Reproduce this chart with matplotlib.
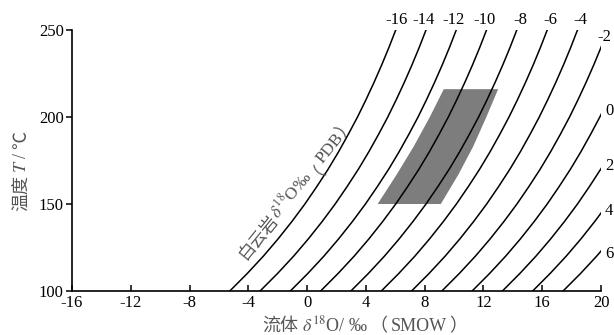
import math

import matplotlib
matplotlib.use("Agg")
import matplotlib.pyplot as plt
from matplotlib.transforms import IdentityTransform

SERIF = "Liberation Serif"
CJK = "Noto Sans CJK SC"
plt.rcParams["font.family"] = [SERIF, CJK, "DejaVu Sans"]
plt.rcParams["mathtext.fontset"] = "stix"
plt.rcParams["axes.unicode_minus"] = False

# temperature (°C) at which the curves were read
temps = [100, 110, 120, 130, 140, 150, 160, 170, 180, 190, 200, 210, 220, 230, 240, 250]

# fluid d18O (SMOW) along each dolomite d18O (PDB) curve
curve_labels = [-16, -14, -12, -10, -8, -6, -4, -2, 0, 2, 4, 6]
c_m16 = [-5.26, -4.08, -2.98, -1.97, -1.03, -0.15, 0.66, 1.43, 2.14, 2.80, 3.43, 4.01, 4.56, 5.08, 5.57, 6.03]
c_m14 = [-3.20, -2.02, -0.92, 0.09, 1.03, 1.91, 2.72, 3.49, 4.20, 4.86, 5.49, 6.07, 6.62, 7.14, 7.63, 8.09]
c_m12 = [-1.14, 0.04, 1.14, 2.15, 3.09, 3.97, 4.78, 5.55, 6.26, 6.92, 7.55, 8.13, 8.68, 9.20, 9.69, 10.15]
c_m10 = [0.92, 2.10, 3.20, 4.21, 5.15, 6.03, 6.84, 7.61, 8.32, 8.98, 9.61, 10.19, 10.74, 11.26, 11.75, 12.21]
c_m8 = [2.98, 4.16, 5.26, 6.27, 7.21, 8.09, 8.90, 9.67, 10.38, 11.04, 11.67, 12.25, 12.80, 13.32, 13.81, 14.27]
c_m6 = [5.05, 6.23, 7.33, 8.34, 9.28, 10.16, 10.97, 11.74, 12.45, 13.11, 13.74, 14.32, 14.87, 15.39, 15.88, 16.34]
c_m4 = [7.11, 8.29, 9.39, 10.40, 11.34, 12.22, 13.03, 13.80, 14.51, 15.17, 15.80, 16.38, 16.93, 17.45, 17.94, 18.40]
c_m2 = [9.17, 10.35, 11.45, 12.46, 13.40, 14.28, 15.09, 15.86, 16.57, 17.23, 17.86, 18.44, 18.99, 19.51, 20.00, 20.46]
c_0 = [11.23, 12.41, 13.51, 14.52, 15.46, 16.34, 17.15, 17.92, 18.63, 19.29, 19.92, 20.50, 21.05, 21.57, 22.06, 22.52]
c_p2 = [13.29, 14.47, 15.57, 16.58, 17.52, 18.40, 19.21, 19.98, 20.69, 21.35, 21.98, 22.56, 23.11, 23.63, 24.12, 24.58]
c_p4 = [15.35, 16.53, 17.63, 18.64, 19.58, 20.46, 21.27, 22.04, 22.75, 23.41, 24.04, 24.62, 25.17, 25.69, 26.18, 26.64]
c_p6 = [17.42, 18.60, 19.70, 20.71, 21.65, 22.53, 23.34, 24.11, 24.82, 25.48, 26.11, 26.69, 27.24, 27.76, 28.25, 28.71]
curves = [c_m16, c_m14, c_m12, c_m10, c_m8, c_m6, c_m4, c_m2, c_0, c_p2, c_p4, c_p6]

# label anchors: top row (x at T~256) and right column
top_label_x = [6.10, 7.92, 9.96, 12.09, 14.50, 16.56, 18.60]
right_labels = ["-2", "0", "2", "4", "6"]
right_label_x = [20.22, 20.55, 20.55, 20.55, 20.55]
right_label_t = [246, 203.4, 172.1, 145.7, 121.3]

# shaded field (fluid d18O, T)
field_left_x = [4.8, 6.1, 7.25, 8.35, 9.3]
field_right_x = [9.1, 10.3, 11.3, 12.2, 13.0]
field_t = [150, 167, 183, 200, 216]

LABEL_GRAY = "#555555"


def rich_text(fig, x, y, pieces, rotation=0, size=12, color="black", gap=0.0):
    """Draw mixed-font pieces in a row; (x, y) is the baseline centre in pixels."""
    renderer = fig.canvas.get_renderer()
    widths = []
    for s, fam in pieces:
        t = fig.text(0, 0, s, fontsize=size, family=fam)
        widths.append(t.get_window_extent(renderer).width)
        t.remove()
    total = sum(widths) + gap * (len(pieces) - 1)
    dx, dy = math.cos(math.radians(rotation)), math.sin(math.radians(rotation))
    pos = -total / 2
    for (s, fam), w in zip(pieces, widths):
        fig.text(x + pos * dx, y + pos * dy, s, fontsize=size, family=fam, color=color,
                 rotation=rotation, rotation_mode="anchor", ha="left", va="baseline",
                 transform=IdentityTransform())
        pos += w + gap


fig = plt.figure(figsize=(6.14, 3.35), dpi=100)
ax = fig.add_axes([72 / 614, 1 - 291 / 335, (601 - 72) / 614, (291 - 30) / 335])

poly_x = field_left_x + field_right_x[::-1]
poly_t = field_t + field_t[::-1]
ax.fill(poly_x, poly_t, color="#7d7d7d", lw=0, zorder=1)

for xs in curves:
    ax.plot(xs, temps, color="black", lw=1.1, zorder=2)

ax.set_xlim(-16, 20)
ax.set_ylim(100, 250)
ax.set_xticks(range(-16, 21, 4))
ax.set_yticks([100, 150, 200, 250])
ax.spines["top"].set_visible(False)
ax.spines["right"].set_visible(False)
for s in ("left", "bottom"):
    ax.spines[s].set_linewidth(1.2)
ax.tick_params(axis="x", direction="in", length=4, width=1.1, labelsize=12, pad=3)
ax.tick_params(axis="y", direction="out", length=4, width=1.1, labelsize=12, pad=2)

for lab, x in zip(curve_labels[:7], top_label_x):
    ax.text(x, 255.7, str(lab), ha="center", va="center", fontsize=12, clip_on=False)
for lab, x, t in zip(right_labels, right_label_x, right_label_t):
    ax.text(x, t, lab, ha="center", va="center", fontsize=12, clip_on=False)

# rotated note along the -16 curve
rich_text(fig, 300, 143, [("白云岩", CJK), ("$\\delta^{18}$O", SERIF), ("‰", [SERIF, CJK]),
                          ("（", CJK), ("PDB", SERIF), ("）", CJK)],
          rotation=51, size=12.5, color=LABEL_GRAY)

# axis titles
rich_text(fig, 26, 164, [("温度", CJK), ("$T$ / ", SERIF), ("℃", CJK)],
          rotation=90, size=13, color=LABEL_GRAY, gap=2)
rich_text(fig, 365, 4, [("流体", CJK), ("$\\delta^{18}$O/", SERIF), ("‰", [SERIF, CJK]),
                        ("（", CJK), ("SMOW", SERIF), ("）", CJK)],
          size=13, color=LABEL_GRAY, gap=3)

fig.savefig("out.png", dpi=100, facecolor="white")
